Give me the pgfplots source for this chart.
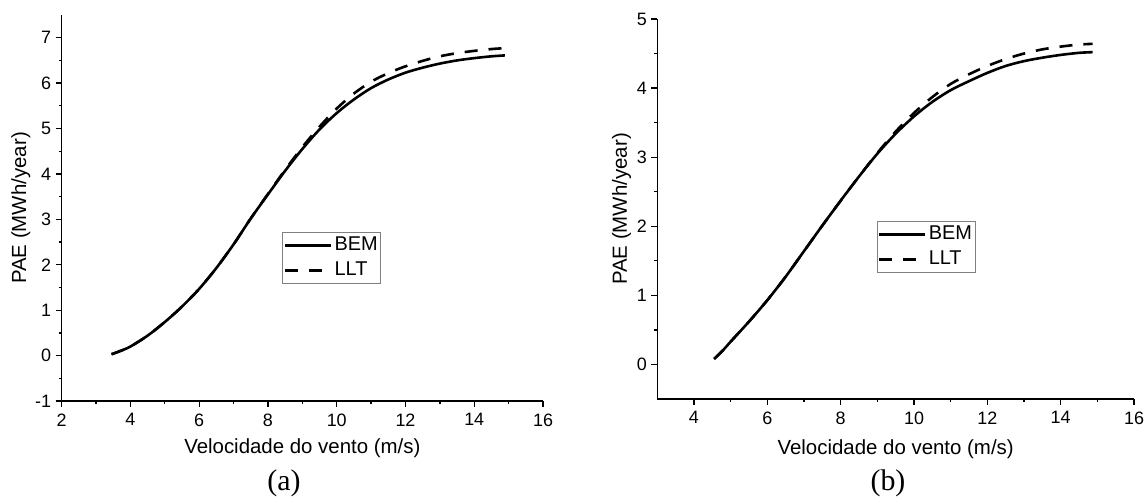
\documentclass[border=0pt]{standalone}
\usepackage{pgfplots}
\pgfplotsset{compat=1.18}
\usepackage{fontspec}
\setmainfont{Liberation Sans}
\newfontfamily\capfont{Liberation Serif}
\newcommand\tickfont{\fontsize{18}{21}\selectfont}

\pgfplotstableread{
x y
3.45 0.03
3.7 0.10
4.0 0.20
4.5 0.44
5.0 0.74
5.5 1.08
6.0 1.47
6.5 1.93
7.0 2.45
7.5 3.02
8.0 3.55
8.5 4.07
9.0 4.55
9.5 4.98
10.0 5.34
10.5 5.64
11.0 5.89
11.5 6.08
12.0 6.23
12.5 6.34
13.0 6.43
13.5 6.50
14.0 6.55
14.5 6.59
14.89 6.61
}\bemA
\pgfplotstableread{
x y
3.45 0.03
3.7 0.10
4.0 0.20
4.5 0.44
5.0 0.74
5.5 1.08
6.0 1.47
6.5 1.93
7.0 2.45
7.5 3.02
8.0 3.56
8.5 4.09
9.0 4.59
9.5 5.04
10.0 5.44
10.5 5.77
11.0 6.03
11.5 6.22
12.0 6.37
12.5 6.49
13.0 6.59
13.5 6.66
14.0 6.71
14.5 6.75
14.89 6.77
}\lltA
\pgfplotstableread{
x y
4.55 0.08
4.8 0.21
5.0 0.33
5.5 0.62
6.0 0.93
6.5 1.27
7.0 1.64
7.5 2.01
8.0 2.37
8.5 2.72
9.0 3.05
9.5 3.34
10.0 3.59
10.5 3.80
11.0 3.97
11.5 4.10
12.0 4.22
12.5 4.32
13.0 4.39
13.5 4.44
14.0 4.48
14.5 4.51
14.87 4.52
}\bemB
\pgfplotstableread{
x y
4.55 0.08
4.8 0.21
5.0 0.33
5.5 0.62
6.0 0.93
6.5 1.27
7.0 1.64
7.5 2.01
8.0 2.37
8.5 2.72
9.0 3.06
9.5 3.37
10.0 3.64
10.5 3.87
11.0 4.06
11.5 4.20
12.0 4.32
12.5 4.42
13.0 4.50
13.5 4.56
14.0 4.60
14.5 4.63
14.87 4.64
}\lltB

\pgfplotsset{
  myaxis/.style={
    anchor=south west, scale only axis,
    axis x line*=bottom, axis y line*=left,
    axis line style={-, line width=1.5bp, black},
    tick align=outside,
    major tick length=6bp, minor tick length=3bp,
    every tick/.style={line width=1.3bp, black},
    minor x tick num=1, minor y tick num=1,
    /pgf/number format/assume math mode=true,
    every tick label/.append style={font=\tickfont},
    xticklabel style={font=\tickfont, yshift=-3bp},
    yticklabel style={font=\tickfont, xshift=-1bp},
    label style={font=\fontsize{20.5}{24}\selectfont},
    legend cell align=left,
    legend style={draw=gray, line width=0.8bp, anchor=north west,
      font=\fontsize{20}{23}\selectfont, inner xsep=1bp, inner ysep=2bp,
      nodes={inner sep=2bp, text height=14bp, text depth=4bp},
      row sep=3bp},
    legend image code/.code={\draw[#1, line width=2.8bp] (0bp,0bp) -- (46bp,0bp);},
    bem/.style={black, line width=2.6bp, smooth},
    llt/.style={black, line width=2.6bp, smooth, dash pattern=on 13bp off 11bp},
  }
}

\begin{document}
\begin{tikzpicture}[x=1bp,y=1bp]
\path[use as bounding box] (0,0) rectangle (1147,498);
\begin{axis}[myaxis,
  at={(61.7bp,97bp)}, width=481.3bp, height=386bp,
  xmin=2, xmax=16, ymin=-1, ymax=7.5,
  xtick={2,4,...,16}, ytick={-1,0,...,7},
  xlabel={Velocidade do vento (m/s)}, ylabel={PAE (MWh/year)},
  xlabel style={at={(axis description cs:0.5,-0.137)}, anchor=base},
  ylabel style={at={(axis description cs:-0.085,0.5)}, anchor=center},
  legend style={at={(axis cs:8.42,2.72)}},
]
\addplot[bem] table {\bemA};
\addlegendentry{BEM}
\addplot[llt] table {\lltA};
\addlegendentry{LLT}
\end{axis}
\begin{axis}[myaxis,
  at={(657.3bp,99bp)}, width=476.7bp, height=380bp,
  xmin=3, xmax=16, ymin=-0.5, ymax=5,
  xtick={4,6,...,16}, ytick={0,1,...,5},
  xlabel={Velocidade do vento (m/s)}, ylabel={PAE (MWh/year)},
  xlabel style={at={(axis description cs:0.5,-0.147)}, anchor=base},
  ylabel style={at={(axis description cs:-0.075,0.5)}, anchor=center},
  legend style={at={(axis cs:8.98,2.07)}},
]
\addplot[bem] table {\bemB};
\addlegendentry{BEM}
\addplot[llt] table {\lltB};
\addlegendentry{LLT}
\end{axis}
\node[font=\capfont\fontsize{30}{36}\selectfont, anchor=base] at (284,7) {(a)};
\node[font=\capfont\fontsize{30}{36}\selectfont, anchor=base] at (888,7) {(b)};
\end{tikzpicture}
\end{document}
